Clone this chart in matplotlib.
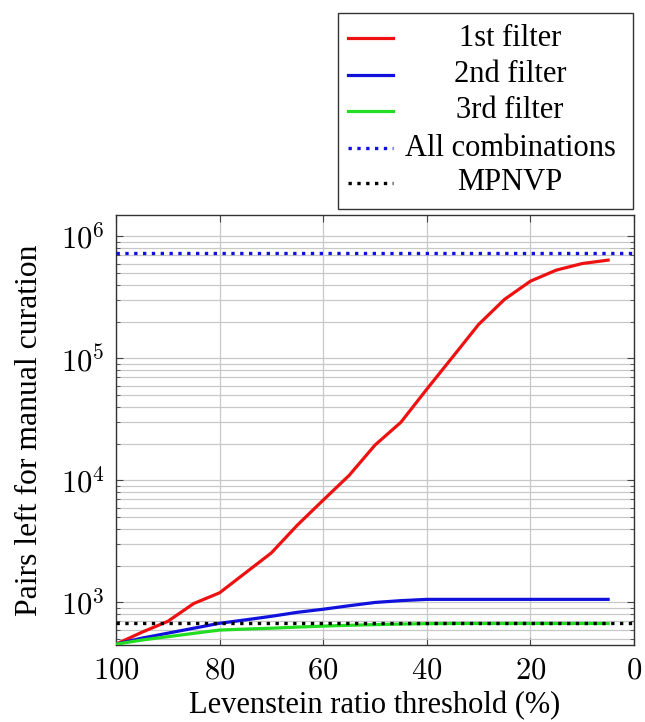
import numpy as np
import matplotlib.pyplot as plt
from matplotlib import ticker
from matplotlib.lines import Line2D
from matplotlib.patches import Rectangle

plt.rcParams['font.family'] = ['Liberation Serif', 'DejaVu Serif']
plt.rcParams['mathtext.fontset'] = 'cm'

# data
threshold = [100, 95, 90, 85, 80, 75, 70, 65, 60, 55, 50, 45, 40, 35, 30, 25, 20, 15, 10, 5]
first_filter = [455, 570, 700, 980, 1200, 1750, 2550, 4300, 6900, 11000, 19500, 30000,
                56000, 103000, 190000, 305000, 430000, 530000, 600000, 640000]
second_filter = [455, 510, 560, 615, 675, 720, 770, 830, 880, 940, 1000, 1035,
                 1060, 1060, 1060, 1060, 1060, 1060, 1060, 1060]
third_filter = [455, 492, 524, 558, 594, 605, 615, 628, 640, 650, 658, 665,
                670, 672, 672, 672, 672, 672, 672, 672]
all_combinations = 730000
mpnvp = 675

labels = ['1st filter', '2nd filter', '3rd filter', 'All combinations', 'MPNVP']
colors = ['#ee1111', '#1111dd', '#22dd22', '#1111dd', 'black']
styles = ['-', '-', '-', ':', ':']
fs = 22

W, H = 645, 722
fig = plt.figure(figsize=(W / 100, H / 100), dpi=100)
ax = fig.add_axes([116 / W, 1 - 645 / H, (634 - 116) / W, (645 - 215) / H])

series = [first_filter, second_filter, third_filter]
for vals, c, ls in zip(series, colors[:3], styles[:3]):
    ax.plot(threshold, vals, color=c, linestyle=ls, lw=2.3, zorder=3)
ax.axhline(all_combinations, color=colors[3], linestyle=styles[3], lw=2.4, zorder=3)
ax.axhline(mpnvp, color=colors[4], linestyle=styles[4], lw=2.4, zorder=3)

ax.set_yscale('log')
ax.set_xlim(100, 0)
ax.set_ylim(448, 1.5e6)
ax.set_xticks([100, 80, 60, 40, 20, 0])
ax.xaxis.set_major_formatter(ticker.FuncFormatter(lambda v, p: f'${v:g}$'))
ax.yaxis.set_major_locator(ticker.LogLocator(base=10, numticks=10))
ax.yaxis.set_minor_locator(ticker.LogLocator(base=10, subs=np.arange(2, 10), numticks=20))
ax.yaxis.set_major_formatter(ticker.FuncFormatter(lambda v, p: f'$10^{{{int(round(np.log10(v)))}}}$'))
ax.yaxis.set_minor_formatter(ticker.NullFormatter())

ax.grid(True, which='major', color='#c8c8c8', lw=0.9)
ax.grid(True, which='minor', axis='y', color='#c8c8c8', lw=0.9)
ax.set_axisbelow(True)
ax.tick_params(which='both', direction='in', top=True, right=True, labelsize=fs, color='#444444')
ax.tick_params(which='major', length=5)
ax.tick_params(which='minor', length=3)
ax.tick_params(axis='x', pad=8)
ax.tick_params(axis='y', pad=8)
for s in ax.spines.values():
    s.set_color('#333333')
    s.set_linewidth(1.0)

ax.set_xlabel('Levenstein ratio threshold (%)', fontsize=fs, labelpad=4)
ax.set_ylabel('Pairs left for manual curation', fontsize=22.8, labelpad=12)

# legend box above the axes, labels centred as in the reference
fig.add_artist(Rectangle((338 / W, 1 - 209 / H), (633 - 338) / W, (209 - 13) / H,
                         transform=fig.transFigure, fill=False, edgecolor='#333333', lw=1.0))
row_y = [38, 75, 111, 148, 183]
for lab, c, ls, ry in zip(labels, colors, styles, row_y):
    yy = 1 - ry / H
    fig.add_artist(Line2D([348 / W, 393 / W], [yy, yy], transform=fig.transFigure,
                          color=c, linestyle=ls, lw=2.3 if ls == '-' else 2.4))
    fig.text(510 / W, yy, lab, ha='center', va='center', fontsize=fs)

fig.savefig('out.png', dpi=100)
